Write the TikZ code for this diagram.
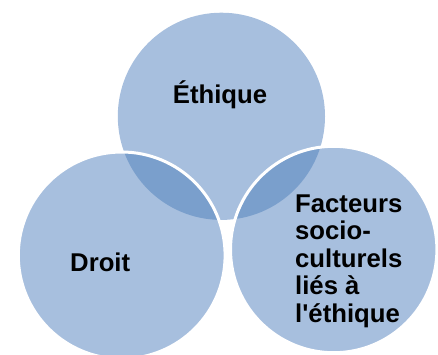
\documentclass[tikz,border=0pt]{standalone}
\usepackage{fontspec}
\setmainfont{Liberation Sans}[Ligatures=TeXOff]
\definecolor{vlight}{RGB}{167,191,222}
\definecolor{vdark}{RGB}{122,159,204}
\begin{document}
\begin{tikzpicture}[x=1bp,y=-1bp,
  circfill/.style={fill=vlight},
  ring/.style={draw=white,line width=3bp},
  lbl/.style={inner sep=0pt,font=\bfseries\fontsize{25.7bp}{27.4bp}\selectfont,text=black}]
\useasboundingbox (0,0) rectangle (438,354);
\coordinate (ct) at (221.4,116.3);
\coordinate (cl) at (121.7,255.4);
\coordinate (cr) at (333.7,249.5);
\fill[circfill] (ct) circle[radius=103.6];
\fill[circfill] (cl) circle[radius=103.4];
\fill[circfill] (cr) circle[radius=103.2];
\begin{scope}
  \clip (ct) circle[radius=103.6];
  \fill[vdark] (cl) circle[radius=103.4];
  \fill[vdark] (cr) circle[radius=103.2];
\end{scope}
\draw[ring] (cl) circle[radius=103.4];
\draw[ring] (cr) circle[radius=103.2];
\node[lbl,anchor=base] (eth) at (220,103) {Éthique};
\node[lbl,anchor=base west] (dro) at (70,271) {Droit};
\node[lbl,anchor=base west,align=left] (fac) at (295,322) {Facteurs\\socio-\\culturels\\liés à\\l'éthique};
\end{tikzpicture}
\end{document}
